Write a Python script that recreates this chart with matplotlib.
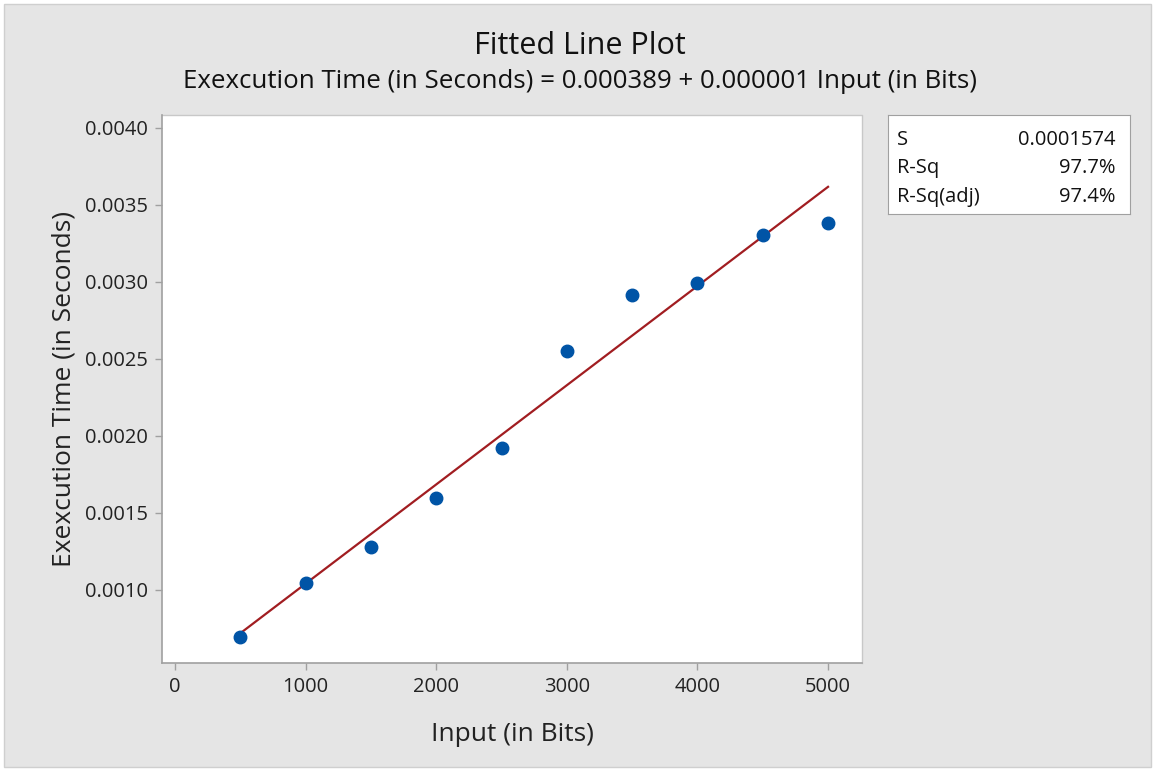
import numpy as np
import matplotlib
matplotlib.use("Agg")
from matplotlib import pyplot as plt
from matplotlib.patches import Rectangle

# Data
input_bits = [500, 1000, 1500, 2000, 2500, 3000, 3500, 4000, 4500, 5000]
exec_time = [0.000695, 0.001045, 0.00128, 0.0016, 0.00192,
             0.00255, 0.002915, 0.002995, 0.003305, 0.00338]
stat_names = ["S", "R-Sq", "R-Sq(adj)"]
stat_values = ["0.0001574", "97.7%", "97.4%"]
x_ticks = [0, 1000, 2000, 3000, 4000, 5000]
y_ticks = [0.0010, 0.0015, 0.0020, 0.0025, 0.0030, 0.0035, 0.0040]

plt.rcParams["font.family"] = ["Open Sans", "DejaVu Sans"]

W, H = 1155, 771
fig = plt.figure(figsize=(W / 100, H / 100), dpi=100)
fig.patch.set_facecolor("white")
fig.patches.append(Rectangle((4 / W, 4 / H), (W - 8) / W, (H - 8) / H,
                             transform=fig.transFigure, facecolor="#e5e5e5",
                             edgecolor="#cfcfcf", linewidth=1, zorder=-10))

ax = fig.add_axes([162 / W, 1 - 663 / H, 700 / W, 548 / H])
ax.set_facecolor("white")

# fitted line from least squares
slope, intercept = np.polyfit(input_bits, exec_time, 1)
xs = np.array([min(input_bits), max(input_bits)])
ax.plot(xs, intercept + slope * xs, color="#a11d21", linewidth=1.6, zorder=2)
ax.plot(input_bits, exec_time, "o", color="#0054a6", markersize=9, zorder=3)

ax.set_xlim(-100, 5260)
ax.set_ylim(0.000526, 0.004084)
ax.set_xticks(x_ticks)
ax.set_yticks(y_ticks)
ax.set_yticklabels([f"{v:.4f}" for v in y_ticks])

for s in ax.spines.values():
    s.set_color("#a0a0a0")
    s.set_linewidth(1.2)
ax.spines["top"].set_visible(False)
ax.spines["right"].set_visible(False)
ax.plot([0, 1, 1], [1, 1, 0], transform=ax.transAxes, color="#c8c8c8",
        linewidth=1, clip_on=False)
ax.tick_params(direction="out", length=5, width=1, color="#a0a0a0",
               labelsize=14.5, labelcolor="#222222", pad=5)

ax.set_xlabel("Input (in Bits)", fontsize=19, color="#222222")
ax.set_ylabel("Exexcution Time (in Seconds)", fontsize=19, color="#222222")
ax.xaxis.set_label_coords(0.5, -0.108)
ax.yaxis.set_label_coords(-0.122, 0.5)

fig.text(580 / W, 1 - 46 / H, "Fitted Line Plot", ha="center", va="center",
         fontsize=22, color="#111111")
fig.text(580 / W, 1 - 81 / H,
         "Exexcution Time (in Seconds) = 0.000389 + 0.000001 Input (in Bits)",
         ha="center", va="center", fontsize=18.6, color="#111111")

# statistics box
box = fig.add_axes([888 / W, 1 - 214 / H, 242 / W, 99 / H])
box.set_xticks([])
box.set_yticks([])
box.set_facecolor("white")
for s in box.spines.values():
    s.set_color("#a0a0a0")
for i, (name, val) in enumerate(zip(stat_names, stat_values)):
    yy = 0.75 - i * 0.29
    box.text(0.037, yy, name, ha="left", va="center", fontsize=14.5,
             color="#111111", transform=box.transAxes)
    box.text(0.94, yy, val, ha="right", va="center", fontsize=14.5,
             color="#111111", transform=box.transAxes)

fig.savefig("out.png", dpi=100)
